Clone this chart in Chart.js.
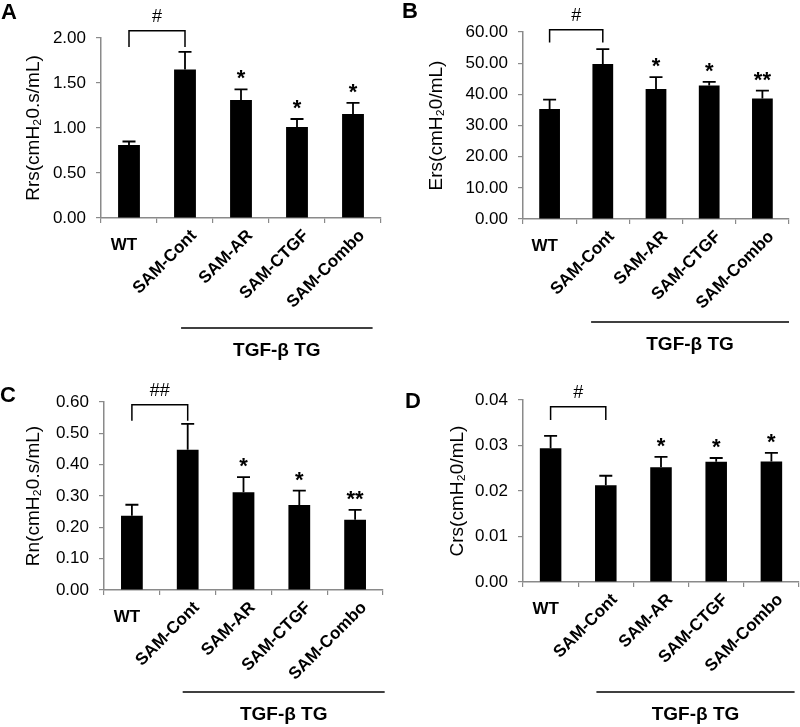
<!DOCTYPE html>
<html>
<head>
<meta charset="utf-8">
<script src="https://cdn.jsdelivr.net/npm/chart.js@4"></script>
<style>
  body { margin: 0; background: #fff; }
  #wrap { position: relative; width: 800px; height: 727px; }
  canvas { position: absolute; }
</style>
</head>
<body>
<div id="wrap">
  <canvas id="chartA" width="400" height="360" style="left:0;top:0"></canvas>
  <canvas id="chartB" width="400" height="360" style="left:400px;top:0"></canvas>
  <canvas id="chartC" width="400" height="367" style="left:0;top:360px"></canvas>
  <canvas id="chartD" width="400" height="367" style="left:400px;top:360px"></canvas>
</div>
<script>
// Nhóm
const categories = ['WT', 'SAM-Cont', 'SAM-AR', 'SAM-CTGF', 'SAM-Combo'];
const groupLabel = 'TGF-β TG';

// A - Rrs
const rrsMean = [0.81, 1.65, 1.31, 1.01, 1.155];
const rrsSem = [0.04, 0.195, 0.12, 0.09, 0.125];
const rrsTicks = [0, 0.5, 1, 1.5, 2];
const rrsStars = ['', '', '*', '*', '*'];

// B - Ers
const ersMean = [35.3, 49.7, 41.7, 42.8, 38.7];
const ersSem = [3.0, 4.8, 3.8, 1.2, 2.5];
const ersTicks = [0, 10, 20, 30, 40, 50, 60];
const ersStars = ['', '', '*', '*', '**'];

// C - Rn
const rnMean = [0.237, 0.448, 0.312, 0.271, 0.224];
const rnSem = [0.035, 0.082, 0.048, 0.046, 0.032];
const rnTicks = [0, 0.1, 0.2, 0.3, 0.4, 0.5, 0.6];
const rnStars = ['', '', '*', '*', '**'];

// D - Crs
const crsMean = [0.0294, 0.02125, 0.0252, 0.02645, 0.0265];
const crsSem = [0.0027, 0.0021, 0.0023, 0.0008, 0.0019];
const crsTicks = [0, 0.01, 0.02, 0.03, 0.04];
const crsStars = ['', '', '*', '*', '*'];

const bracketLabels = ['#', '#', '##', '#'];

Chart.defaults.font.family = '"Liberation Sans", Arial, sans-serif';
Chart.defaults.color = '#000';

const axisGray = '#8a8a8a';

// error bars, stars, bracket, x labels, group line
const annotate = {
  id: 'annotate',
  afterDraw(chart) {
    const p = chart.options.plugins.annotate;
    const ctx = chart.ctx;
    const xs = chart.scales.x, ys = chart.scales.y;
    const bars = chart.getDatasetMeta(0).data;
    const bottom = chart.chartArea.bottom;
    ctx.save();
    ctx.strokeStyle = '#000';
    ctx.fillStyle = '#000';

    // error bars + stars
    ctx.lineWidth = 1.8;
    bars.forEach((bar, i) => {
      const top = ys.getPixelForValue(p.mean[i] + p.sem[i]);
      ctx.beginPath();
      ctx.moveTo(bar.x, bar.y);
      ctx.lineTo(bar.x, top);
      ctx.moveTo(bar.x - 6.5, top);
      ctx.lineTo(bar.x + 6.5, top);
      ctx.stroke();
      if (p.stars[i]) {
        ctx.font = 'bold 22px "Liberation Sans", Arial, sans-serif';
        ctx.textAlign = 'center';
        ctx.textBaseline = 'alphabetic';
        ctx.fillText(p.stars[i], bar.x, top - 4);
      }
    });

    // bracket WT vs SAM-Cont
    const bTop = ys.getPixelForValue(p.bracket[0]);
    const bBot = ys.getPixelForValue(p.bracket[1]);
    ctx.lineWidth = 1.5;
    ctx.beginPath();
    ctx.moveTo(bars[0].x, bBot);
    ctx.lineTo(bars[0].x, bTop);
    ctx.lineTo(bars[1].x, bTop);
    ctx.lineTo(bars[1].x, bBot);
    ctx.stroke();
    ctx.font = '18px "Liberation Sans", Arial, sans-serif';
    ctx.textAlign = 'center';
    ctx.textBaseline = 'middle';
    ctx.fillText(p.bracketLabel, (bars[0].x + bars[1].x) / 2, bTop - 14);

    // x labels
    ctx.font = 'bold 17px "Liberation Sans", Arial, sans-serif';
    categories.forEach((c, i) => {
      const x = xs.getPixelForValue(i);
      if (i === 0) {
        ctx.textAlign = 'center';
        ctx.textBaseline = 'middle';
        ctx.fillText(c, x - 5, bottom + 27);
      } else {
        ctx.save();
        ctx.translate(x + 9, bottom + 15);
        ctx.rotate(-Math.PI / 4);
        ctx.textAlign = 'right';
        ctx.textBaseline = 'middle';
        ctx.fillText(c, 0, 0);
        ctx.restore();
      }
    });

    // TGF-b TG group line
    const gx0 = xs.getPixelForValue(p.group[0]);
    const gx1 = xs.getPixelForValue(p.group[1]);
    const gy = bottom + p.groupY;
    ctx.lineWidth = 1.5;
    ctx.beginPath();
    ctx.moveTo(gx0, gy);
    ctx.lineTo(gx1, gy);
    ctx.stroke();
    ctx.font = 'bold 19px "Liberation Sans", Arial, sans-serif';
    ctx.textAlign = 'center';
    ctx.textBaseline = 'middle';
    ctx.fillText(groupLabel, (gx0 + gx1) / 2, gy + 23);

    // panel letter
    ctx.font = 'bold 22px "Liberation Sans", Arial, sans-serif';
    ctx.textAlign = 'left';
    ctx.textBaseline = 'alphabetic';
    ctx.fillText(p.letter, p.letterPos[0], p.letterPos[1]);
    ctx.restore();
  }
};

function makeConfig(mean, sem, ticks, stars, title, digits, panel) {
  const [left, top, right, bottom] = panel.area;
  return {
    type: 'bar',
    data: {
      labels: categories,
      datasets: [{
        data: mean,
        backgroundColor: '#000',
        borderWidth: 0,
        categoryPercentage: 1,
        barPercentage: 0.39
      }]
    },
    options: {
      responsive: false,
      animation: false,
      layout: { padding: { left: 0, top: top, right: panel.w - right, bottom: 0 } },
      plugins: {
        legend: { display: false },
        tooltip: { enabled: false },
        annotate: {
          mean: mean,
          sem: sem,
          stars: stars,
          bracket: panel.bracket,
          bracketLabel: panel.bracketLabel,
          group: panel.group,
          groupY: panel.groupY,
          letter: panel.letter,
          letterPos: panel.letterPos
        }
      },
      scales: {
        x: {
          grid: { display: true, drawOnChartArea: false, drawTicks: true, tickLength: 5, color: axisGray, lineWidth: 1.2 },
          border: { display: true, color: axisGray, width: 1.5 },
          ticks: { display: false },
          afterFit: (s) => { s.height = panel.h - bottom; }
        },
        y: {
          min: ticks[0],
          max: ticks[ticks.length - 1],
          afterBuildTicks: (s) => { s.ticks = ticks.map(v => ({ value: v })); },
          grid: { display: true, drawOnChartArea: false, drawTicks: true, tickLength: 5, color: axisGray, lineWidth: 1.2 },
          border: { display: true, color: axisGray, width: 1.5 },
          ticks: {
            padding: 10,
            font: { size: 17 },
            color: '#000',
            callback: (v) => Number(v).toFixed(digits)
          },
          title: {
            display: true,
            text: title,
            font: { size: 19 },
            color: '#000',
            padding: { top: panel.titlePad, bottom: 0 }
          },
          afterFit: (s) => { s.width = left; }
        }
      }
    },
    plugins: [annotate]
  };
}

// A
var chartA = new Chart(document.getElementById('chartA'), makeConfig(
  rrsMean, rrsSem, rrsTicks, rrsStars, 'Rrs(cmH₂0.s/mL)', 2,
  { w: 400, h: 360, area: [101, 38, 381, 218], titlePad: 22, bracket: [2.08, 1.90], bracketLabel: bracketLabels[0],
    group: [0.93, 4.35], groupY: 110, letter: 'A', letterPos: [1, 19] }
));

// B
var chartB = new Chart(document.getElementById('chartB'), makeConfig(
  ersMean, ersSem, ersTicks, ersStars, 'Ers(cmH₂0/mL)', 2,
  { w: 400, h: 360, area: [123, 32, 389, 219], titlePad: 25, bracket: [60.7, 56.6], bracketLabel: bracketLabels[1],
    group: [0.78, 4.5], groupY: 103, letter: 'B', letterPos: [2, 18] }
));

// C
var chartC = new Chart(document.getElementById('chartC'), makeConfig(
  rnMean, rnSem, rnTicks, rnStars, 'Rn(cmH₂0.s/mL)', 2,
  { w: 400, h: 367, area: [104, 42, 383, 230], titlePad: 22, bracket: [0.591, 0.540], bracketLabel: bracketLabels[2],
    group: [0.91, 4.53], groupY: 102, letter: 'C', letterPos: [0, 42] }
));

// D
var chartD = new Chart(document.getElementById('chartD'), makeConfig(
  crsMean, crsSem, crsTicks, crsStars, 'Crs(cmH₂0/mL)', 2,
  { w: 400, h: 367, area: [123, 40, 399, 222], titlePad: 46, bracket: [0.0385, 0.0356], bracketLabel: bracketLabels[3],
    group: [0.83, 4.42], groupY: 110, letter: 'D', letterPos: [5, 48] }
));
</script>
</body>
</html>
